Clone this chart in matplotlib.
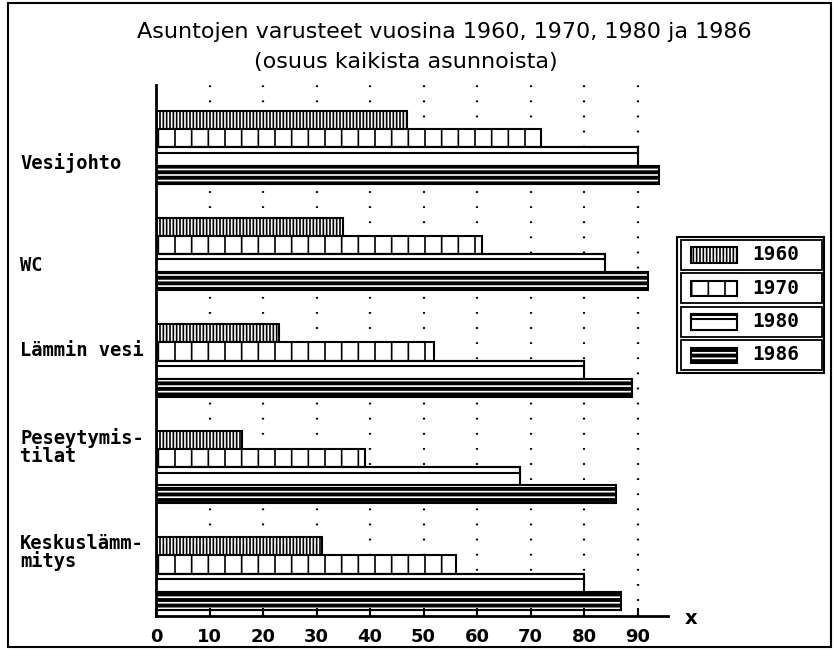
import numpy as np
import matplotlib
matplotlib.use('Agg')
from matplotlib import pyplot as plt
from matplotlib.patches import Rectangle
from matplotlib.transforms import blended_transform_factory

# data (percent of all dwellings)
categories = ['Vesijohto', 'WC', 'Lämmin vesi', 'Peseytymis-\ntilat', 'Keskuslämm-\nmitys']
years = ['1960', '1970', '1980', '1986']
v1960 = [47, 35, 23, 16, 31]
v1970 = [72, 61, 52, 39, 56]
v1980 = [90, 84, 80, 68, 80]
v1986 = [94, 92, 89, 86, 87]
xticks = [0, 10, 20, 30, 40, 50, 60, 70, 80, 90]

# label nudges (bar units from top of group), the plotter placed them a bit unevenly
label_offsets = [2.86, 2.61, 1.43, 0.91, 0.83]

W, H = 835, 650
plt.rcParams['hatch.linewidth'] = 1.2
fig = plt.figure(figsize=(W / 100, H / 100), dpi=100)
ax = fig.add_axes([156 / W, 1 - 616 / H, (668 - 156) / W, (616 - 85) / H])

gap = 5.85
base = np.arange(len(categories)) * gap

# 1960: dark with thin white vertical stripes
ax.barh(base, v1960, height=1, align='edge', facecolor='black', edgecolor='white', hatch='|||||', lw=0)
ax.barh(base, v1960, height=1, align='edge', fill=False, edgecolor='black', lw=1.5)
# 1970: open boxes
ax.barh(base + 1, v1970, height=1, align='edge', facecolor='white', edgecolor='black', hatch='|', lw=1.5)
# 1980: plain with a strip on top
ax.barh(base + 2, v1980, height=1, align='edge', facecolor='white', edgecolor='black', lw=1.5)
ax.barh(base + 2, v1980, height=0.3, align='edge', fill=False, edgecolor='black', lw=1.5)
# 1986: dark with white horizontal lines
ax.barh(base + 3, v1986, height=1, align='edge', facecolor='black', edgecolor='white', hatch='---', lw=0)
ax.barh(base + 3, v1986, height=1, align='edge', fill=False, edgecolor='black', lw=1.5)

ax.set_xlim(0, 95.7)
ax.set_ylim(base[-1] + 4 + 0.33, -1.43)

for t in xticks[1:]:
    ax.axvline(t, color='black', lw=1.6, ls=(0, (0.8, 6)), zorder=0)

ax.spines['top'].set_visible(False)
ax.spines['right'].set_visible(False)
ax.spines['left'].set_linewidth(2)
ax.spines['bottom'].set_linewidth(2)
ax.set_yticks([])
ax.set_xticks(xticks)
ax.set_xticklabels([str(t) for t in xticks], fontsize=13, fontweight='bold', family='DejaVu Sans')
ax.tick_params(axis='x', direction='in', length=6, width=1.5, pad=9)

trans = blended_transform_factory(fig.transFigure, ax.transData)
for i, name in enumerate(categories):
    ax.text(20 / W, base[i] + label_offsets[i], name, transform=trans, ha='left', va='center',
            fontsize=13.5, fontweight='bold', family='DejaVu Sans Mono', linespacing=0.9)

fig.text(685 / W, 1 - 619 / H, 'x', fontsize=14, fontweight='bold', ha='left', va='center')

fig.text(444 / W, 1 - 32 / H, 'Asuntojen varusteet vuosina 1960, 1970, 1980 ja 1986',
         fontsize=16, ha='center', va='center', family='DejaVu Sans')
fig.text(406 / W, 1 - 62 / H, '(osuus kaikista asunnoista)',
         fontsize=16, ha='center', va='center', family='DejaVu Sans')


def px_rect(x0, y0, x1, y1, **kw):
    r = Rectangle((x0 / W, 1 - y1 / H), (x1 - x0) / W, (y1 - y0) / H, transform=fig.transFigure, **kw)
    fig.add_artist(r)
    return r


# legend, drawn box by box like the original
px_rect(677, 237, 824, 373, fill=False, edgecolor='black', lw=1.5)
tops = [240, 273, 307, 340]
for i, yr in enumerate(years):
    y0 = tops[i]
    px_rect(681, y0, 822, y0 + 30, fill=False, edgecolor='black', lw=1.3)
    hy0, hy1 = y0 + 7.5, y0 + 22.5
    if yr == '1960':
        px_rect(691, hy0, 737, hy1, facecolor='black', edgecolor='white', hatch='|||||', lw=0)
        px_rect(691, hy0, 737, hy1, fill=False, edgecolor='black', lw=1.5)
    elif yr == '1970':
        px_rect(691, hy0, 737, hy1, facecolor='white', edgecolor='black', hatch='|', lw=1.5)
    elif yr == '1980':
        px_rect(691, hy0, 737, hy1, facecolor='white', edgecolor='black', lw=1.5)
        px_rect(691, hy0, 737, hy0 + 5, fill=False, edgecolor='black', lw=1.5)
    else:
        px_rect(691, hy0, 737, hy1, facecolor='black', edgecolor='white', hatch='---', lw=0)
        px_rect(691, hy0, 737, hy1, fill=False, edgecolor='black', lw=1.5)
    fig.text(752 / W, 1 - (y0 + 15) / H, yr, fontsize=14, fontweight='bold',
             family='DejaVu Sans Mono', ha='left', va='center')

# outer frame of the page
px_rect(8, 3, 831, 647, fill=False, edgecolor='black', lw=1.5)

fig.savefig('out.png', dpi=100)
